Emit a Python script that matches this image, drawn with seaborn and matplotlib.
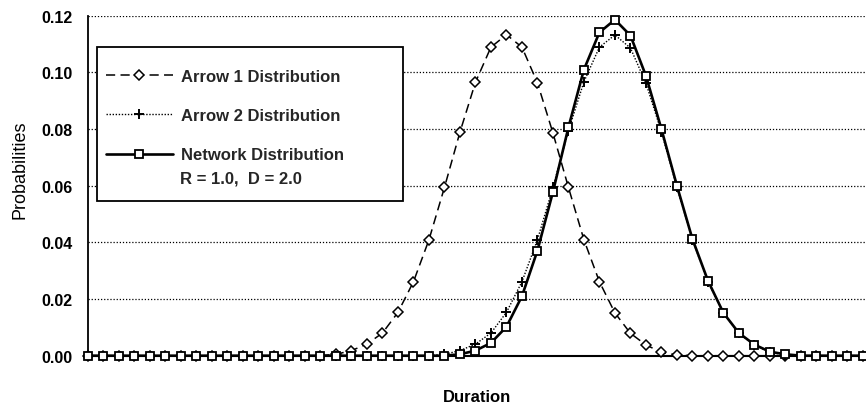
import numpy as np
import pandas as pd
import matplotlib
matplotlib.use("Agg")
import matplotlib.pyplot as plt
from matplotlib.patches import Rectangle
import seaborn as sns

# ---- data ----
duration = list(range(51))
arrow1 = [0]*16 + [0.0005, 0.0018, 0.0041, 0.0080, 0.0153, 0.0261, 0.0409, 0.0594,
                   0.0789, 0.0965, 0.1089, 0.1133, 0.1089, 0.0963, 0.0786, 0.0594,
                   0.0409, 0.0261, 0.0151, 0.0079, 0.0038, 0.0012, 0.0003] + [0]*12
arrow2 = [0]*23 + [0.0005, 0.0018, 0.0041, 0.0080, 0.0153, 0.0261, 0.0409, 0.0594,
                   0.0794, 0.0967, 0.1089, 0.1132, 0.1086, 0.0962, 0.0790, 0.0594,
                   0.0409, 0.0261, 0.0151, 0.0079, 0.0038, 0.0012, 0.0003] + [0]*5
network = [0]*24 + [0.0005, 0.0018, 0.0045, 0.0102, 0.0210, 0.0371, 0.0578, 0.0806,
                    0.1010, 0.1141, 0.1186, 0.1130, 0.0988, 0.0800, 0.0600, 0.0412,
                    0.0265, 0.0151, 0.0080, 0.0039, 0.0014, 0.0005] + [0]*5
yticks = [0.00, 0.02, 0.04, 0.06, 0.08, 0.10, 0.12]
ytick_labels = ["0.00", "0.02", "0.04", "0.06", "0.08", "0.10", "0.12"]
labels = ["Arrow 1 Distribution", "Arrow 2 Distribution", "Network Distribution"]
note = "R = 1.0,  D = 2.0"

sns.set_theme(style="white")
plt.rcParams['font.family'] = ['Liberation Sans', 'DejaVu Sans']

W, H = 866, 410
fig = plt.figure(figsize=(W/100, H/100), dpi=100)
ax = fig.add_axes([88/W, (H-356.7)/H, 778/W, 340/H])

df = pd.DataFrame({"Duration": duration, "a1": arrow1, "a2": arrow2, "net": network})

sns.lineplot(data=df, x="Duration", y="a1", ax=ax, color="black", lw=1.1,
             linestyle=(0, (6, 3.5)), marker="D", markersize=4.6,
             markerfacecolor="white", markeredgecolor="black", markeredgewidth=1.1,
             clip_on=False, zorder=3)
sns.lineplot(data=df, x="Duration", y="a2", ax=ax, color="black", lw=1.0,
             linestyle=(0, (1, 1.2)), marker="+", markersize=7,
             markeredgecolor="black", markeredgewidth=1.4,
             clip_on=False, zorder=3.5)
sns.lineplot(data=df, x="Duration", y="net", ax=ax, color="black", lw=1.9,
             linestyle="-", marker="s", markersize=5.8,
             markerfacecolor="white", markeredgecolor="black", markeredgewidth=1.3,
             clip_on=False, zorder=4)

ax.set_xlim(0, 50.2)
ax.set_ylim(0, 0.12)
ax.set_xticks(duration)
ax.set_xticklabels([])
ax.set_yticks(yticks)
ax.set_yticklabels(ytick_labels, fontsize=11.5, fontweight="bold")
ax.tick_params(axis="y", direction="inout", length=6, width=1.0, pad=7.8, colors="black")
ax.tick_params(axis="x", direction="inout", length=7, width=1.0, colors="black")
ax.yaxis.grid(True, color="black", linestyle=(0, (1, 1.5)), linewidth=0.9)
ax.xaxis.grid(False)
ax.set_axisbelow(True)
for s in ["top", "right"]:
    ax.spines[s].set_visible(False)
ax.spines["left"].set_color("black")
ax.spines["left"].set_linewidth(1.3)
ax.spines["bottom"].set_color("black")
ax.spines["bottom"].set_linewidth(1.5)

ax.set_xlabel("Duration", fontsize=12, fontweight="bold", color="black")
ax.xaxis.set_label_coords(0.5, -0.098)
ax.set_ylabel("Probabilities", fontsize=13, color="black")
ax.yaxis.set_label_coords(-0.077, 0.55)

# legend frame
rect = Rectangle((97/W, (H-202)/H), 306/W, 154/H, transform=fig.transFigure,
                 facecolor="white", edgecolor="black", linewidth=1.3, zorder=10)
fig.patches.append(rect)

handles = ax.get_lines()[:3]
leg = fig.legend(handles, labels, loc="upper left",
                 bbox_to_anchor=(106/W, (H-70)/H), bbox_transform=fig.transFigure,
                 frameon=False, borderpad=0, borderaxespad=0,
                 handlelength=4.0, handletextpad=0.5, labelspacing=1.45,
                 prop={"family": "Liberation Sans", "weight": "bold", "size": 12})
leg.set_zorder(11)
fig.text(180/W, (H-179)/H, note, fontsize=12, fontweight="bold",
         ha="left", va="center", zorder=11)

fig.savefig("out.png", dpi=100)
